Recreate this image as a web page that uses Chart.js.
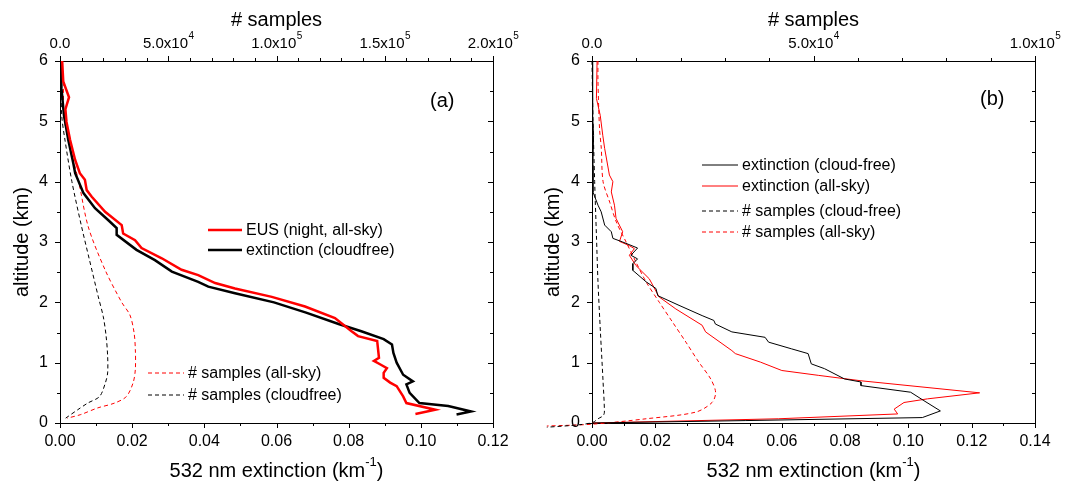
<!DOCTYPE html>
<html>
<head>
<meta charset="utf-8">
<script src="https://cdn.jsdelivr.net/npm/chart.js@4.4.1/dist/chart.umd.min.js"></script>
<style>
body{margin:0;background:#fff;}
#wrap{position:relative;width:1066px;height:482px;}
canvas{position:absolute;top:0;}
</style>
</head>
<body>
<div id="wrap">
<canvas id="ca" width="533" height="482" style="left:0"></canvas>
<canvas id="cb" width="533" height="482" style="left:533px"></canvas>
</div>
<script>
// panel (a): altitude (km) vs extinction (km-1) and sample counts
const aAllAlt = [6.0,5.66,5.4,5.2,4.99,4.69,4.36,4.14,4.03,3.86,3.75,3.50,3.28,3.14,3.03,2.90,2.73,2.54,2.45,2.32,2.23,2.09,1.93,1.74,1.52,1.44,1.36,1.08,1.03,0.97,0.91,0.83,0.75,0.67,0.61,0.44,0.33,0.22,0.15];
const aAllExt = [0.0006,0.0009,0.0025,0.0015,0.0018,0.0028,0.0042,0.0055,0.0069,0.0074,0.0088,0.0125,0.0171,0.0175,0.0208,0.0226,0.0282,0.0337,0.0383,0.043,0.0485,0.0587,0.0679,0.0762,0.0808,0.0826,0.0879,0.0884,0.087,0.0888,0.0906,0.0897,0.0897,0.0915,0.0933,0.0951,0.096,0.104,0.0985];
const aClrAlt = [6.0,5.55,5.1,4.69,4.30,4.14,3.81,3.56,3.36,3.23,3.12,2.87,2.70,2.51,2.34,2.26,2.15,2.0,1.83,1.64,1.52,1.39,1.30,1.16,1.0,0.80,0.69,0.64,0.50,0.33,0.28,0.19,0.14];
const aClrExt = [0.0002,0.0004,0.0011,0.0023,0.0037,0.0042,0.0065,0.0097,0.0134,0.0157,0.0157,0.0212,0.0263,0.031,0.0383,0.0411,0.0485,0.0593,0.0682,0.0772,0.0835,0.0897,0.092,0.0924,0.0933,0.0951,0.0978,0.096,0.0969,0.0996,0.1076,0.1139,0.1099];
const aNAllAlt = [6.0,5.66,5.1,4.69,4.03,3.25,2.54,2.0,1.79,1.5,1.22,0.89,0.67,0.44,0.33,0.25,0.14,0.08];
const aNAllVal = [500,1500,1800,3800,8450,13070,20800,28500,32300,34200,34800,34800,33800,30700,25200,17400,9600,3400];
const aNClrAlt = [6.0,5.1,4.69,4.0,3.25,2.72,2.09,1.76,1.44,1.11,0.83,0.67,0.44,0.33,0.22,0.08];
const aNClrVal = [300,800,2300,5500,10000,13500,17700,20000,21300,22000,22000,21000,18300,12800,8200,2600];

// panel (b)
const bClrAlt = [6.0,5.66,5.1,4.77,4.27,3.83,3.61,3.5,3.28,3.17,3.06,3.0,2.9,2.78,2.72,2.64,2.53,2.34,2.23,2.11,1.95,1.78,1.70,1.64,1.51,1.42,1.34,1.23,1.15,0.98,0.9,0.73,0.68,0.62,0.51,0.37,0.2,0.09,0.04,0.0];
const bClrExt = [0.0,0.0003,0.0001,0.0005,0.0003,0.0003,0.0019,0.0029,0.004,0.0061,0.0066,0.0097,0.0144,0.0123,0.0144,0.0129,0.0129,0.0171,0.0202,0.0208,0.0275,0.0348,0.0385,0.039,0.0442,0.0547,0.0558,0.063,0.0683,0.0693,0.0735,0.0798,0.085,0.085,0.1007,0.1049,0.1101,0.1044,0.0484,0.0];
const bAllAlt = [6.0,5.38,5.1,4.77,4.55,4.11,4.0,3.83,3.61,3.39,3.17,3.01,2.94,2.89,2.78,2.61,2.39,2.09,1.89,1.62,1.51,1.20,1.15,1.01,0.87,0.79,0.70,0.50,0.40,0.34,0.23,0.15,0.07,0.0];
const bAllExt = [0.0016,0.0014,0.0026,0.0034,0.004,0.0055,0.0066,0.0061,0.0071,0.0076,0.0097,0.0087,0.0118,0.0134,0.0118,0.0139,0.0181,0.0212,0.0265,0.0348,0.0359,0.0442,0.0453,0.0532,0.06,0.0715,0.085,0.1225,0.106,0.0986,0.0955,0.0966,0.0589,0.0];
const bNClrAlt = [6.0,5.1,4.0,3.11,2.34,1.51,0.68,0.18,0.12,0.07,0.01,-0.03,-0.07];
const bNClrVal = [0,200,600,1000,1350,1900,2500,2800,2500,1350,200,-3000,-10200];
const bNAllAlt = [6.0,5.66,4.88,4.55,4.0,3.66,3.33,3.0,2.67,2.34,2.0,1.67,1.34,1.01,0.73,0.51,0.34,0.18,0.07,-0.02,-0.05];
const bNAllVal = [1350,1350,1700,2100,2500,4000,5500,7700,9900,12200,15200,18200,21200,24100,26800,27900,27100,23400,12200,0,-10200];

const aTopTicks = [0, 5e4, 1e5, 1.5e5, 2e5];
const bTopTicks = [0, 5e4, 1e5];

const FONT = "'Liberation Sans', Arial, sans-serif";

function pts(xs, ys){ return xs.map((v,i)=>({x:v, y:ys[i]})); }

function sciLabel(v){
  if(v === 0) return ['0.0',''];
  const e = Math.floor(Math.log10(v));
  return [(v/Math.pow(10,e)).toFixed(1)+'x10', String(e)];
}

// ticks, top labels, bottom title, legend and panel letter
const decor = {
  id: 'decor',
  afterDraw(chart, args, o){
    const c = chart.ctx, a = chart.chartArea;
    const {x, x2, y} = chart.scales;
    c.save();
    c.strokeStyle = '#000'; c.lineWidth = 1;
    const line = (x0,y0,x1,y1)=>{ c.beginPath(); c.moveTo(x0,y0); c.lineTo(x1,y1); c.stroke(); };
    // bottom ticks (out)
    for(let v=0; v<=o.xMax+1e-9; v+=o.xStep/2){
      const p = Math.round(x.getPixelForValue(v))+0.5;
      const major = Math.abs(v/o.xStep - Math.round(v/o.xStep)) < 1e-6;
      line(p, a.bottom, p, a.bottom+(major?5:3));
    }
    // top ticks (out)
    for(let v=0; v<=o.nMax+1; v+=1e4){
      const p = Math.round(x2.getPixelForValue(v))+0.5;
      const major = v % 5e4 === 0;
      line(p, a.top, p, a.top-(major?5:3));
    }
    // left (out) and right (in) ticks
    for(let v=0; v<=6; v+=0.5){
      const p = Math.round(y.getPixelForValue(v))+0.5;
      const major = v % 1 === 0;
      line(a.left, p, a.left-(major?5:3), p);
      line(a.right, p, a.right-(major?5:3), p);
    }
    c.fillStyle = '#000';
    c.textBaseline = 'alphabetic';
    // top tick labels with superscript exponent
    o.topTicks.forEach(v=>{
      const [m, e] = sciLabel(v);
      c.font = '15px ' + FONT;
      const wm = c.measureText(m).width;
      c.font = '10px ' + FONT;
      const we = c.measureText(e).width;
      const x0 = x2.getPixelForValue(v) - (wm+we)/2;
      c.font = '15px ' + FONT;
      c.fillText(m, x0, 48);
      c.font = '10px ' + FONT;
      c.fillText(e, x0+wm+0.5, 39);
    });
    // bottom title with superscript
    const t1 = '532 nm extinction (km', t2 = '-1', t3 = ')';
    c.font = '20px ' + FONT; const w1 = c.measureText(t1).width, w3 = c.measureText(t3).width;
    c.font = '13px ' + FONT; const w2 = c.measureText(t2).width;
    let tx = (a.left+a.right)/2 - (w1+w2+w3)/2;
    c.font = '20px ' + FONT; c.fillText(t1, tx, 477);
    c.font = '13px ' + FONT; c.fillText(t2, tx+w1, 466);
    c.font = '20px ' + FONT; c.fillText(t3, tx+w1+w2, 477);
    // panel letter
    c.font = '20px ' + FONT;
    c.fillText(o.letter, o.letterX, o.letterY);
    // legend
    c.font = '16px ' + FONT;
    c.textBaseline = 'middle';
    o.legend.forEach(it=>{
      const ds = chart.data.datasets[it.i];
      c.save();
      c.strokeStyle = ds.borderColor; c.lineWidth = ds.borderWidth;
      c.setLineDash(ds.borderDash || []);
      line(it.x0, it.y, it.x1, it.y);
      c.restore();
      c.fillText(ds.label, it.x1+4, it.y+1);
    });
    c.restore();
  }
};

function makePanel(id, sets, o){
  const ds = sets.map(s=>({
    label: s.label,
    data: pts(s.xs, s.ys),
    xAxisID: s.axis,
    yAxisID: 'y',
    showLine: true,
    pointRadius: 0,
    borderColor: s.color,
    borderWidth: s.width,
    borderDash: s.dash,
    tension: s.dash ? 0.3 : 0,
    clip: s.noClip ? false : undefined
  }));
  const noGrid = {display:false, drawTicks:false};
  const border = {display:true, color:'#000', width:1};
  return new Chart(document.getElementById(id), {
    type: 'scatter',
    data: { datasets: ds },
    plugins: [decor],
    options: {
      responsive: false,
      animation: false,
      devicePixelRatio: 1,
      layout: { padding: 0 },
      plugins: { legend:{display:false}, tooltip:{enabled:false}, decor: o },
      scales: {
        x: { type:'linear', position:'bottom', min:0, max:o.xMax, grid:noGrid, border,
             ticks:{ stepSize:o.xStep, padding:9, color:'#000', font:{family:FONT, size:16}, callback:v=>v.toFixed(2) },
             afterFit: s=>{ s.height = 59; } },
        x2: { type:'linear', position:'top', min:0, max:o.nMax, grid:noGrid, border,
              ticks:{ display:false },
              title:{ display:true, text:'# samples', color:'#000', font:{family:FONT, size:20}, padding:{top:8, bottom:0} },
              afterFit: s=>{ s.height = 61; } },
        y: { type:'linear', position:'left', min:0, max:6, grid:noGrid, border,
             ticks:{ stepSize:1, padding:12, color:'#000', font:{family:FONT, size:16} },
             title:{ display:true, text:'altitude (km)', color:'#000', font:{family:FONT, size:20}, padding:{top:o.yTitlePad, bottom:0} },
             afterFit: s=>{ s.width = o.leftW; } },
        y2: { type:'linear', position:'right', min:0, max:6, grid:noGrid, border,
              ticks:{ display:false },
              afterFit: s=>{ s.width = o.rightW; } }
      }
    }
  });
}

makePanel('ca', [
  { label:'EUS (night, all-sky)', xs:aAllExt, ys:aAllAlt, axis:'x', color:'#ff0000', width:2.5 },
  { label:'extinction (cloudfree)', xs:aClrExt, ys:aClrAlt, axis:'x', color:'#000000', width:2.5 },
  { label:'# samples (all-sky)', xs:aNAllVal, ys:aNAllAlt, axis:'x2', color:'#ff0000', width:1, dash:[4,3] },
  { label:'# samples (cloudfree)', xs:aNClrVal, ys:aNClrAlt, axis:'x2', color:'#000000', width:1, dash:[4,3] }
], {
  xMax:0.12, xStep:0.02, nMax:2e5, topTicks:aTopTicks, leftW:60, rightW:40, yTitlePad:10,
  letter:'(a)', letterX:430, letterY:107,
  legend:[ {i:0, x0:208, x1:242, y:230}, {i:1, x0:208, x1:242, y:250},
           {i:2, x0:148, x1:184, y:373}, {i:3, x0:148, x1:184, y:395} ]
});

makePanel('cb', [
  { label:'extinction (cloud-free)', xs:bClrExt, ys:bClrAlt, axis:'x', color:'#000000', width:1 },
  { label:'extinction (all-sky)', xs:bAllExt, ys:bAllAlt, axis:'x', color:'#ff0000', width:1 },
  { label:'# samples (cloud-free)', xs:bNClrVal, ys:bNClrAlt, axis:'x2', color:'#000000', width:1, dash:[4,3], noClip:true },
  { label:'# samples (all-sky)', xs:bNAllVal, ys:bNAllAlt, axis:'x2', color:'#ff0000', width:1, dash:[4,3], noClip:true }
], {
  xMax:0.14, xStep:0.02, nMax:1e5, topTicks:bTopTicks, leftW:59, rightW:31, yTitlePad:8,
  letter:'(b)', letterX:447, letterY:105,
  legend:[ {i:0, x0:169, x1:205, y:165}, {i:1, x0:169, x1:205, y:186},
           {i:2, x0:169, x1:205, y:211}, {i:3, x0:169, x1:205, y:232} ]
});
</script>
</body>
</html>
